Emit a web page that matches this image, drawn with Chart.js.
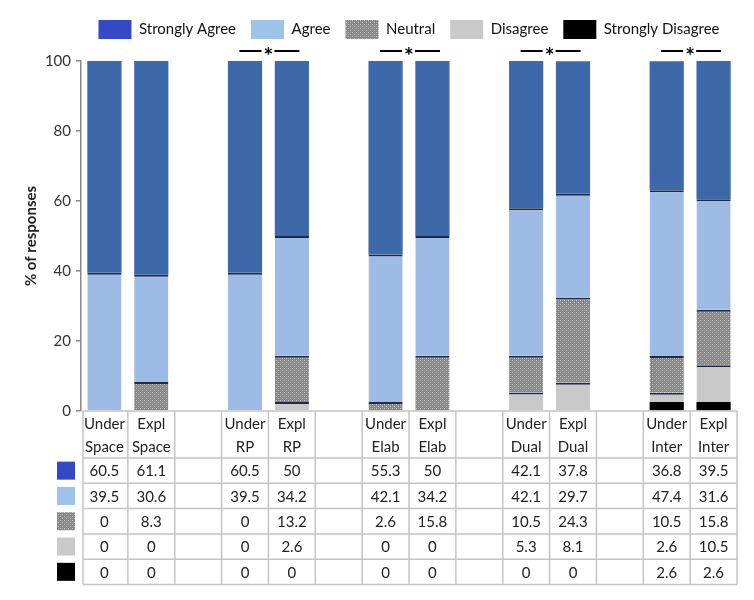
<!DOCTYPE html>
<html>
<head>
<meta charset="utf-8">
<script src="https://cdn.jsdelivr.net/npm/chart.js@4"></script>
<style>
  html, body { margin: 0; padding: 0; background: #fff; }
  #wrap { width: 754px; height: 600px; }
</style>
</head>
<body>
<div id="wrap"><canvas id="grafico" width="754" height="600"></canvas></div>
<script>
// columns (empty strings are the spacer columns between groups)
const categories = [
  ['Under', 'Space'], ['Expl', 'Space'], '',
  ['Under', 'RP'], ['Expl', 'RP'], '',
  ['Under', 'Elab'], ['Expl', 'Elab'], '',
  ['Under', 'Dual'], ['Expl', 'Dual'], '',
  ['Under', 'Inter'], ['Expl', 'Inter']
];
const stronglyAgree    = [60.5, 61.1, null, 60.5, 50,   null, 55.3, 50,   null, 42.1, 37.8, null, 36.8, 39.5];
const agree            = [39.5, 30.6, null, 39.5, 34.2, null, 42.1, 34.2, null, 42.1, 29.7, null, 47.4, 31.6];
const neutral          = [0,    8.3,  null, 0,    13.2, null, 2.6,  15.8, null, 10.5, 24.3, null, 10.5, 15.8];
const disagree         = [0,    0,    null, 0,    2.6,  null, 0,    0,    null, 5.3,  8.1,  null, 2.6,  10.5];
const stronglyDisagree = [0,    0,    null, 0,    0,    null, 0,    0,    null, 0,    0,    null, 2.6,  2.6];
const yTicks = [0, 20, 40, 60, 80, 100];
// pairs marked with a significance star
const starredPairs = [[3, 4], [6, 7], [9, 10], [12, 13]];

const FONT = 'Lato, "Open Sans", sans-serif';

// dotted grey fill for "Neutral"
function dots() {
  const c = document.createElement('canvas');
  c.width = 4; c.height = 4;
  const g = c.getContext('2d');
  g.fillStyle = '#868686';
  g.fillRect(0, 0, 4, 4);
  g.fillStyle = '#c4c4c4';
  g.fillRect(0, 0, 1, 1);
  g.fillRect(2, 2, 1, 1);
  g.fillStyle = '#a2a2a2';
  g.fillRect(2, 0, 1, 1);
  g.fillRect(0, 2, 1, 1);
  return g.createPattern(c, 'repeat');
}
const neutralFill = dots();

const series = [
  { label: 'Strongly Disagree', data: stronglyDisagree, color: '#000000', swatch: '#000000', line: false },
  { label: 'Disagree',          data: disagree,         color: '#c9c9c9', swatch: '#c9c9c9', line: true },
  { label: 'Neutral',           data: neutral,          color: neutralFill, swatch: neutralFill, line: true },
  { label: 'Agree',             data: agree,            color: '#9dbbe5', swatch: '#9dc3e8', line: true },
  { label: 'Strongly Agree',    data: stronglyAgree,    color: '#3d69aa', swatch: '#3449c6', line: false }
];

// empty strip between legend and plot, where the stars go
const starStrip = {
  position: 'top',
  weight: 500,
  fullSize: false,
  options: {},
  isHorizontal() { return true; },
  update(maxWidth) { this.width = maxWidth; this.height = 12; },
  getPadding() { return { left: 0, right: 0, top: 0, bottom: 0 }; },
  draw() {}
};

const tablePlugin = {
  id: 'tablePlugin',
  start(chart) { Chart.layouts.addBox(chart, starStrip); },
  afterDraw(chart) {
    const { ctx, chartArea } = chart;
    const x = chart.scales.x;
    const colW = x.width / categories.length;
    const left = x.left + 2, right = x.right;
    const top = chartArea.bottom;
    const headBottom = top + 47;
    const rowH = 25.3;
    const bottom = headBottom + rowH * series.length;

    ctx.save();
    ctx.strokeStyle = '#c4c4c4';
    ctx.lineWidth = 1.5;
    ctx.beginPath();
    ctx.moveTo(left, top); ctx.lineTo(right, top);
    for (let r = 0; r <= series.length; r++) {
      const y = headBottom + r * rowH;
      ctx.moveTo(left, y); ctx.lineTo(right, y);
    }
    for (let i = 0; i <= categories.length; i++) {
      const xx = i === 0 ? left : x.left + i * colW;
      ctx.moveTo(xx, top); ctx.lineTo(xx, bottom);
    }
    ctx.stroke();

    ctx.font = '15px ' + FONT;
    ctx.fillStyle = '#222';
    ctx.textAlign = 'center';
    ctx.textBaseline = 'middle';
    const rows = series.slice().reverse();
    rows.forEach((s, r) => {
      const cy = headBottom + r * rowH + rowH / 2;
      s.data.forEach((v, i) => {
        if (v === null) return;
        ctx.fillText(String(v), x.getPixelForValue(i), cy + 1);
      });
      ctx.fillStyle = s.swatch;
      ctx.fillRect(57, cy - 9, 18, 18);
      ctx.fillStyle = '#222';
    });

    // significance markers
    ctx.strokeStyle = '#000';
    ctx.lineWidth = 2;
    ctx.fillStyle = '#000';
    ctx.font = 'bold 23px ' + FONT;
    starredPairs.forEach(([a, b]) => {
      const cx = (x.getPixelForValue(a) + x.getPixelForValue(b)) / 2;
      const y = chartArea.top - 10;
      ctx.beginPath();
      ctx.moveTo(cx - 29, y); ctx.lineTo(cx - 7, y);
      ctx.moveTo(cx + 6, y); ctx.lineTo(cx + 31, y);
      ctx.stroke();
      ctx.fillText('*', cx, y + 6);
    });
    ctx.restore();
  }
};

new Chart(document.getElementById('grafico').getContext('2d'), {
  type: 'bar',
  data: {
    labels: categories,
    datasets: series.map(s => ({
      label: s.label,
      data: s.data,
      backgroundColor: s.color,
      borderColor: '#1d2b47',
      borderWidth: ctx => (s.line && ctx.raw) ? { top: 2, left: 0, right: 0, bottom: 0 } : 0,
      borderSkipped: false,
      categoryPercentage: 1,
      barPercentage: 0.73
    }))
  },
  options: {
    responsive: false,
    animation: false,
    devicePixelRatio: 1,
    layout: { padding: { top: 5, right: 17, left: 22, bottom: 0 } },
    plugins: {
      legend: {
        position: 'top',
        fullSize: false,
        reverse: true,
        labels: {
          boxWidth: 33,
          boxHeight: 19,
          padding: 15,
          color: '#111',
          font: { family: FONT, size: 15 },
          generateLabels(chart) {
            const items = Chart.defaults.plugins.legend.labels.generateLabels(chart);
            items.forEach(it => {
              it.fillStyle = series[it.datasetIndex].swatch;
              it.lineWidth = 0;
              it.strokeStyle = 'rgba(0,0,0,0)';
            });
            return items;
          }
        }
      },
      tooltip: { enabled: false }
    },
    scales: {
      x: {
        stacked: true,
        grid: { display: false, drawTicks: false },
        border: { display: false },
        ticks: {
          autoSkip: false,
          maxRotation: 0,
          padding: 2,
          color: '#222',
          font: { family: FONT, size: 15, lineHeight: 1.5 }
        },
        afterFit(s) { s.height = 189; }
      },
      y: {
        stacked: true,
        min: 0,
        max: 100,
        afterBuildTicks(s) { s.ticks = yTicks.map(v => ({ value: v })); },
        grid: { drawOnChartArea: false, tickLength: 5, color: '#888', lineWidth: 1.5 },
        border: { color: '#888', width: 1.5 },
        ticks: { color: '#333', padding: 5, font: { family: FONT, size: 15 } },
        title: {
          display: true,
          text: '% of responses',
          color: '#222',
          padding: { top: 0, bottom: 4 },
          font: { family: FONT, size: 15, weight: 'bold' }
        },
        afterFit(s) { s.width = 59; }
      }
    }
  },
  plugins: [tablePlugin]
});
</script>
</body>
</html>
